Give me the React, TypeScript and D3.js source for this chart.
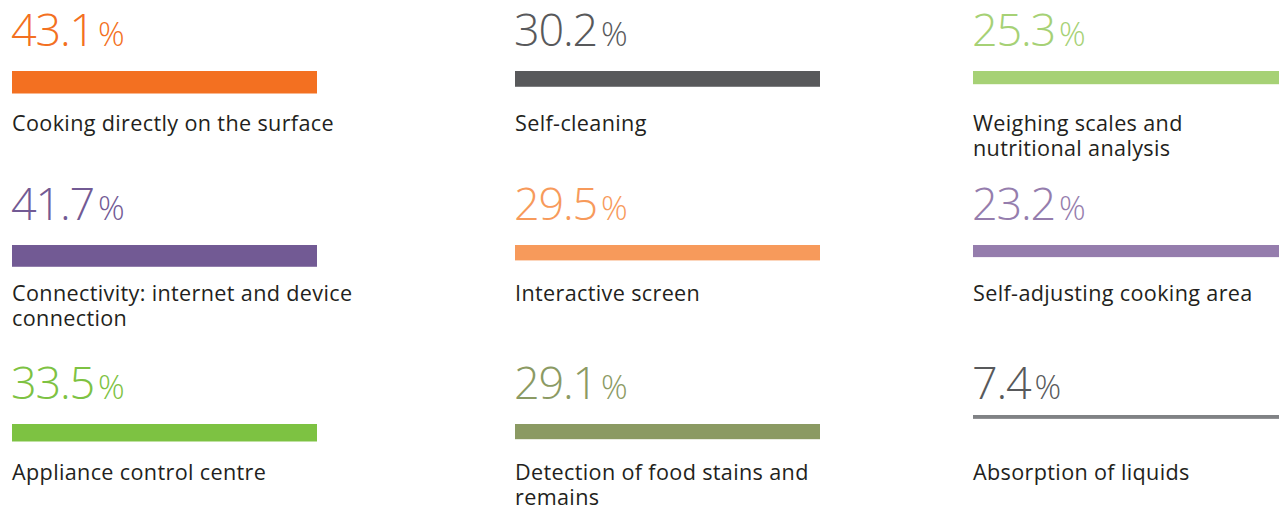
import React from "react";
import * as d3 from "d3";

const categories = [
  "Cooking directly on the surface",
  "Connectivity: internet and device\nconnection",
  "Appliance control centre",
  "Self-cleaning",
  "Interactive screen",
  "Detection of food stains and\nremains",
  "Weighing scales and\nnutritional analysis",
  "Self-adjusting cooking area",
  "Absorption of liquids",
];
const values = [43.1, 41.7, 33.5, 30.2, 29.5, 29.1, 25.3, 23.2, 7.4];
const colors = [
  "#F37021",
  "#725A94",
  "#7DC242",
  "#58595B",
  "#F79A5B",
  "#8B9A63",
  "#A6D175",
  "#957DAD",
  "#808285",
];
const textColors = [
  "#F37021",
  "#725A94",
  "#7DC242",
  "#58595B",
  "#F79A5B",
  "#8B9A63",
  "#A6D175",
  "#957DAD",
  "#58595B",
];

const W = 1279;
const H = 515;
const colX = [12, 515, 973];
const rowNumBase = [46, 220, 399];
const rowLabelBase = [131, 301, 480];
const barW = 305;

export default function App() {
  const thick = d3.scaleLinear().domain([0, 43.1]).range([0, 22.5]);
  const fmt = d3.format(".1f");
  return (
    <svg
      width={W}
      height={H}
      style={{ position: "absolute", left: 0, top: 0, background: "#fff" }}
    >
      {values.map((v, i) => {
        const col = Math.floor(i / 3);
        const row = i % 3;
        const x = colX[col];
        const nb = rowNumBase[row];
        const barTop = v < 10 ? nb + 16 : nb + 25;
        const bw = col === 2 ? W - x : barW;
        const lines = categories[i].split("\n");
        return (
          <g key={i}>
            <text
              x={x - 1}
              y={nb}
              fill={textColors[i]}
              fontFamily="'Open Sans', sans-serif"
              fontWeight={300}
              fontSize={45}
              letterSpacing={-1.2}
            >
              {fmt(v)}
              <tspan fontSize={33} dx={4} letterSpacing={0}>
                %
              </tspan>
            </text>
            <rect x={x} y={barTop} width={bw} height={thick(v)} fill={colors[i]} />
            <text
              x={x}
              y={rowLabelBase[row]}
              fill="#231F20"
              fontFamily="'Open Sans', sans-serif"
              fontSize={21.6}
              letterSpacing={0.35}
            >
              {lines.map((l, j) => (
                <tspan key={j} x={x} dy={j === 0 ? 0 : 25}>
                  {l}
                </tspan>
              ))}
            </text>
          </g>
        );
      })}
    </svg>
  );
}
